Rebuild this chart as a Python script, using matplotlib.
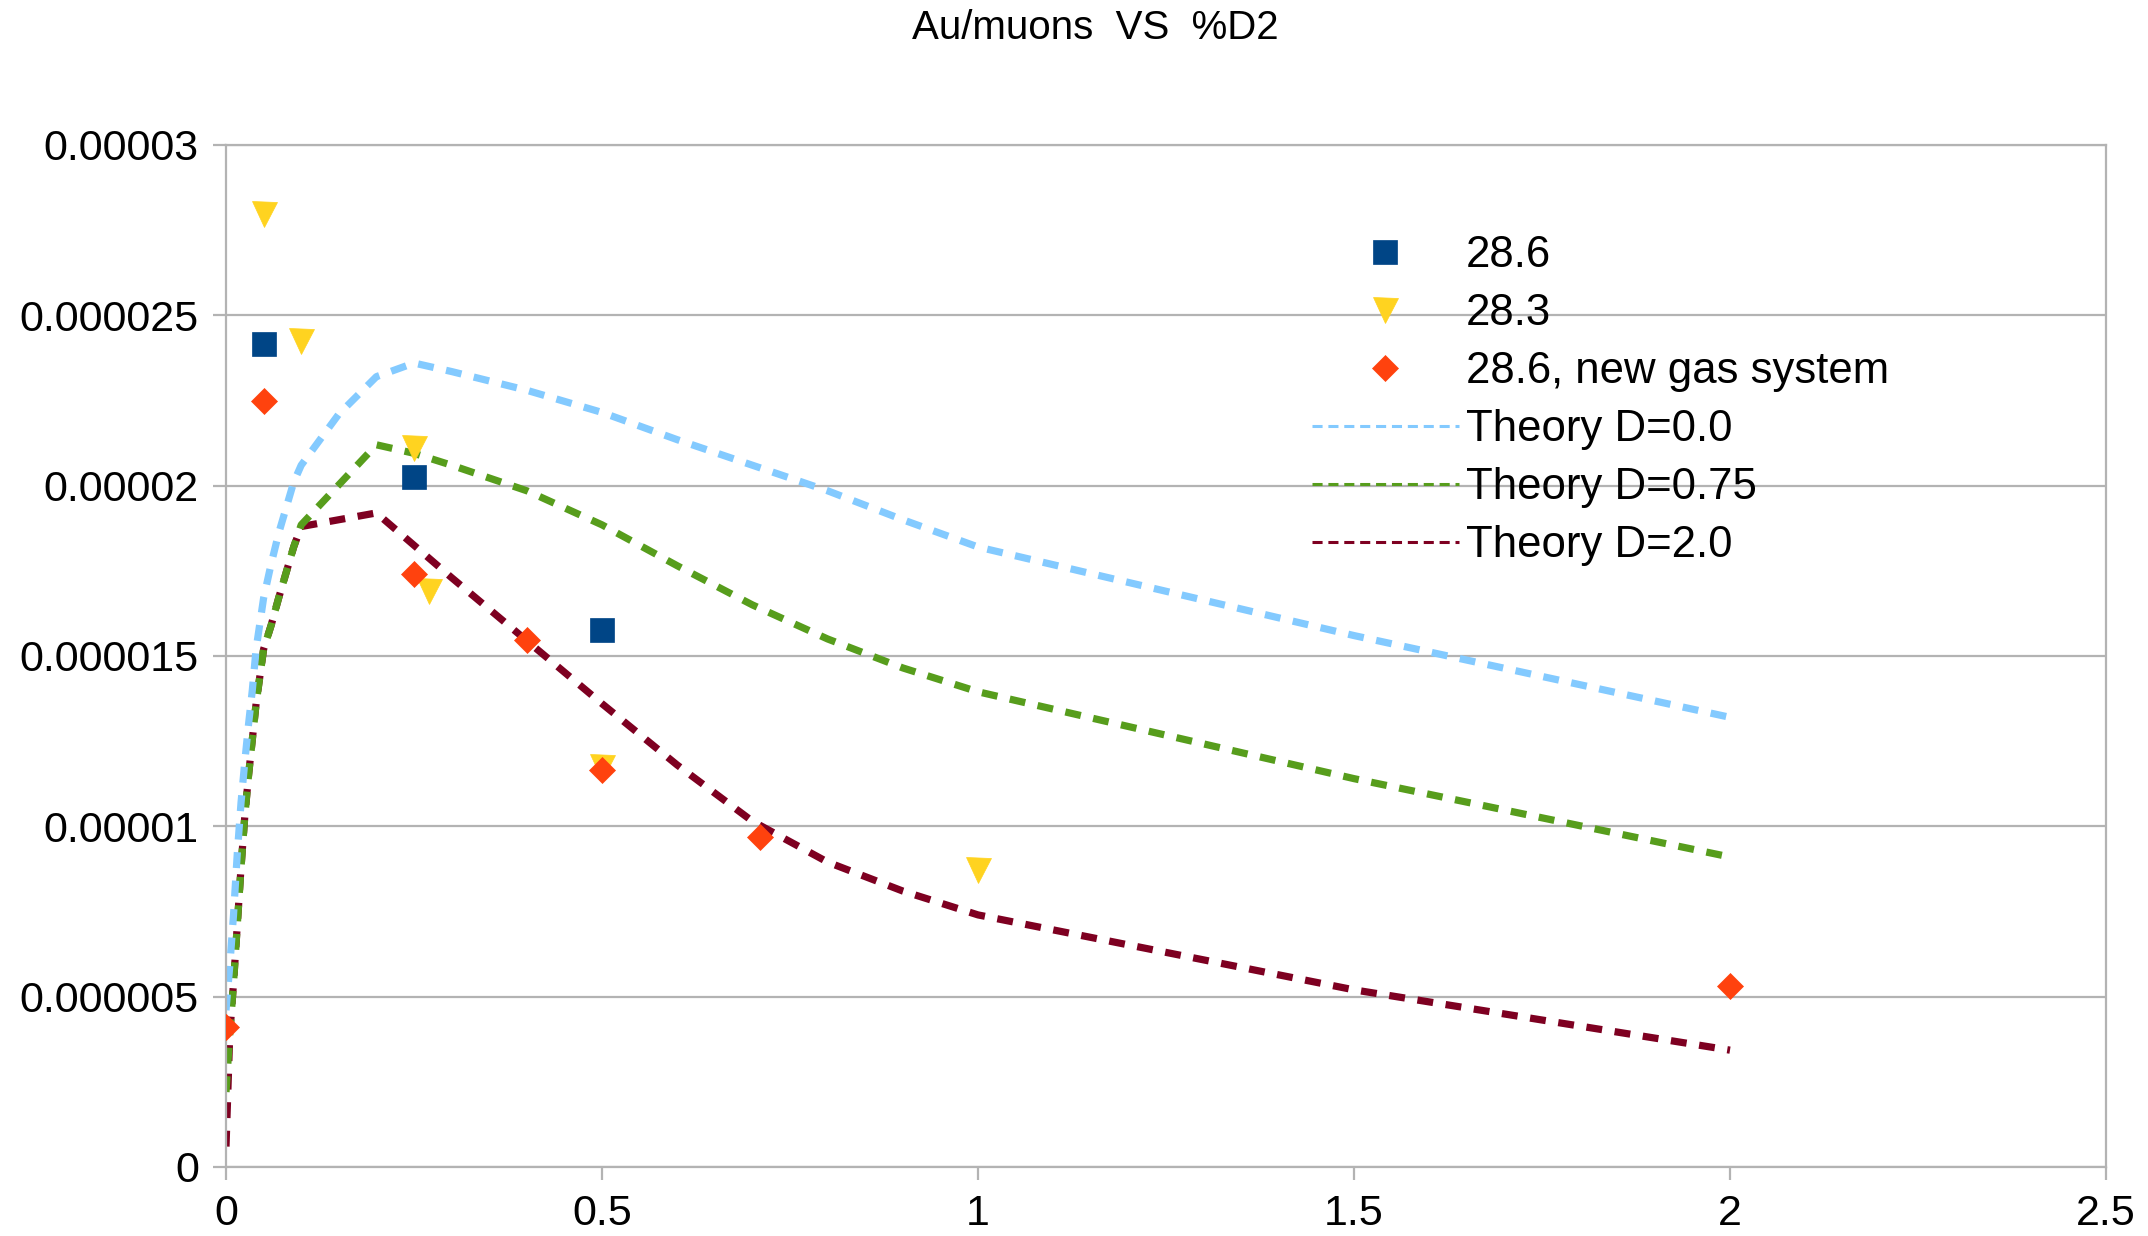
import matplotlib
matplotlib.use('Agg')
import matplotlib.pyplot as plt
from matplotlib.lines import Line2D

plt.rcParams['font.family'] = ['Liberation Sans', 'DejaVu Sans']

# measured points, y in units of 1e-6
x_286 = [0.05, 0.25, 0.5]
y_286 = [24.15, 20.25, 15.76]

x_283 = [0.05, 0.1, 0.25, 0.27, 0.5, 1.0]
y_283 = [27.97, 24.25, 21.1, 16.9, 11.74, 8.73]

x_new = [0.0, 0.05, 0.25, 0.4, 0.5, 0.71, 2.0]
y_new = [4.1, 22.5, 17.4, 15.46, 11.66, 9.7, 5.31]

# theory curves, y in units of 1e-6
x_d00 = [0, 0.005, 0.01, 0.015, 0.02, 0.025, 0.03, 0.035, 0.04, 0.05, 0.06, 0.07, 0.08, 0.09, 0.1,
         0.15, 0.2, 0.25, 0.3, 0.4, 0.5, 0.6, 0.7, 0.8, 0.9, 1.0, 1.5, 2.0]
y_d00 = [4.6, 5.9, 7.4, 9.2, 10.7, 11.9, 13.0, 14.0, 15.2, 16.7, 17.7, 18.6, 19.35, 20.1, 20.6,
         22.1, 23.2, 23.6, 23.35, 22.8, 22.15, 21.35, 20.6, 19.85, 19.0, 18.2, 15.6, 13.2]

x_d075 = [0, 0.005, 0.01, 0.015, 0.02, 0.025, 0.03, 0.04, 0.05, 0.06, 0.07, 0.08, 0.09, 0.1,
          0.2, 0.25, 0.3, 0.4, 0.5, 0.6, 0.7, 0.8, 0.9, 1.0, 1.5, 2.0]
y_d075 = [2.2, 3.9, 5.4, 7.1, 8.8, 10.3, 11.5, 13.6, 15.2, 15.9, 16.7, 17.45, 18.2, 18.85,
          21.2, 20.95, 20.6, 19.85, 18.85, 17.65, 16.5, 15.5, 14.65, 13.95, 11.4, 9.1]

x_d20 = [0, 0.005, 0.01, 0.015, 0.02, 0.025, 0.03, 0.04, 0.05, 0.06, 0.07, 0.08, 0.09, 0.1,
         0.2, 0.3, 0.4, 0.5, 0.6, 0.7, 0.8, 0.9, 1.0, 1.5, 2.0]
y_d20 = [0.6, 3.9, 5.4, 7.1, 8.8, 10.3, 11.5, 13.6, 15.2, 15.9, 16.7, 17.45, 18.2, 18.8,
         19.2, 17.3, 15.45, 13.6, 11.8, 10.15, 8.95, 8.1, 7.4, 5.2, 3.43]

x_ticks = [0, 0.5, 1, 1.5, 2, 2.5]
x_tick_labels = ['0', '0.5', '1', '1.5', '2', '2.5']
y_ticks = [0, 5e-6, 1e-5, 1.5e-5, 2e-5, 2.5e-5, 3e-5]
y_tick_labels = ['0', '0.000005', '0.00001', '0.000015', '0.00002', '0.000025', '0.00003']


def scaled(vals):
    return [v * 1e-6 for v in vals]


W, H = 2148, 1236
fig = plt.figure(figsize=(W / 100, H / 100), dpi=100)
ax = fig.add_axes([226 / W, 1 - 1167 / H, (2106 - 226) / W, (1167 - 145) / H])

grid_col = '#b3b3b3'
line_dash = (2.2, 1.75)

# theory lines (green over red where they coincide)
ax.plot(x_d00, scaled(y_d00), color='#83caff', lw=5.2, dashes=line_dash, zorder=2.2)
ax.plot(x_d075, scaled(y_d075), color='#579d1c', lw=5.2, dashes=line_dash, zorder=2.1)
ax.plot(x_d20, scaled(y_d20), color='#7e0021', lw=5.2, dashes=line_dash, zorder=2.0)

# measurements
sq, = ax.plot(x_286, scaled(y_286), 's', color='#004586', ms=17.5, mec='#004586', mew=0.5, zorder=3)
tri, = ax.plot(x_283, scaled(y_283), 'v', color='#ffd320', ms=18, mec='#ffd320', mew=0.5, zorder=3)
dia, = ax.plot(x_new, scaled(y_new), 'D', color='#ff420e', ms=13.5, mec='#ff420e', mew=0.5, zorder=3)

ax.set_xlim(0, 2.5)
ax.set_ylim(0, 3e-5)
ax.set_xticks(x_ticks)
ax.set_xticklabels(x_tick_labels)
ax.set_yticks(y_ticks)
ax.set_yticklabels(y_tick_labels)

ax.grid(axis='y', color=grid_col, lw=1.6)
ax.set_axisbelow(True)
for sp in ax.spines.values():
    sp.set_color(grid_col)
    sp.set_linewidth(1.6)
ax.tick_params(axis='both', direction='out', length=9.5, width=1.6, color=grid_col,
               labelsize=31, labelcolor='black', pad=10)

# legend uses thinner line symbols, like the original
leg_dash = (3.3, 1.9)
handles = [
    sq, tri, dia,
    Line2D([], [], color='#83caff', lw=2.2, dashes=leg_dash),
    Line2D([], [], color='#579d1c', lw=2.2, dashes=leg_dash),
    Line2D([], [], color='#7e0021', lw=2.2, dashes=leg_dash),
]
labels = ['28.6', '28.3', '28.6, new gas system', 'Theory D=0.0', 'Theory D=0.75', 'Theory D=2.0']
fig.legend(handles, labels, loc='upper left', bbox_to_anchor=(1312 / W, 1 - 235 / H),
           bbox_transform=fig.transFigure, frameon=False, fontsize=31.5, borderpad=0,
           borderaxespad=0, labelspacing=0.39, handletextpad=0.16, handlelength=3.35)

fig.text(1095 / W, 1 - 28 / H, 'Au/muons  VS  %D2', ha='center', va='center', fontsize=29)

fig.savefig('out.png', dpi=100)
